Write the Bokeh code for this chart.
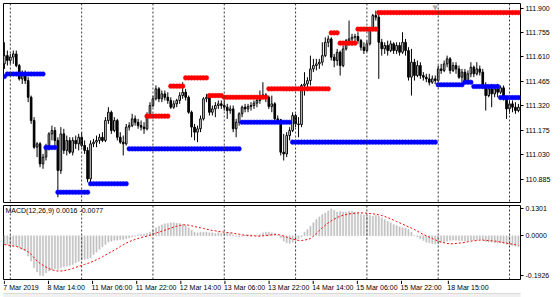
from bokeh.plotting import figure
from bokeh.models import (Range1d, LinearAxis, FixedTicker, Span, Label,
                          NumeralTickFormatter, ColumnDataSource)
from bokeh.core.properties import value
from bokeh.layouts import column
from bokeh.embed import file_html
from bokeh.resources import INLINE

FONT = "Liberation Sans"
FSIZE = "7px"

# ---------------- data (USDJPY H1) ----------------
open_ = [
111.569, 111.618, 111.589, 111.609, 111.628, 111.559, 111.480, 111.510, 111.470, 111.371,
111.233, 111.075, 111.095, 110.976, 111.016, 111.075, 111.154, 111.174, 111.115, 110.937,
111.154, 111.056, 111.115, 111.045, 111.115, 111.095, 111.134, 111.085, 111.056, 110.887,
111.095, 111.105, 111.115, 111.134, 111.115, 111.233, 111.282, 111.174, 111.233, 111.134,
111.105, 111.095, 111.194, 111.203, 111.243, 111.223, 111.203, 111.194, 111.184, 111.263,
111.322, 111.362, 111.421, 111.362, 111.391, 111.371, 111.352, 111.312, 111.332, 111.352,
111.381, 111.401, 111.371, 111.282, 111.194, 111.164, 111.184, 111.243, 111.362, 111.371,
111.282, 111.302, 111.322, 111.332, 111.322, 111.312, 111.292, 111.302, 111.184, 111.223,
111.273, 111.312, 111.302, 111.316, 111.322, 111.336, 111.352, 111.375, 111.385, 111.371,
111.316, 111.332, 111.243, 111.237, 111.045, 111.035, 111.144, 111.174, 111.263, 111.213,
111.209, 111.441, 111.450, 111.470, 111.539, 111.559, 111.569, 111.579, 111.618, 111.697,
111.717, 111.609, 111.589, 111.638, 111.559, 111.658, 111.707, 111.717, 111.727, 111.731,
111.707, 111.668, 111.648, 111.688, 111.777, 111.856, 111.846, 111.697, 111.658, 111.678,
111.648, 111.688, 111.648, 111.678, 111.638, 111.697, 111.648, 111.490, 111.579, 111.500,
111.559, 111.500, 111.490, 111.480, 111.460, 111.480, 111.470, 111.539, 111.530, 111.569,
111.599, 111.530, 111.559, 111.539, 111.490, 111.520, 111.470, 111.510, 111.549, 111.510,
111.539, 111.520, 111.431, 111.381, 111.421, 111.391, 111.421, 111.401, 111.427, 111.362,
111.302, 111.332, 111.312, 111.292]

high = [
111.697, 111.648, 111.628, 111.648, 111.648, 111.569, 111.530, 111.530, 111.490, 111.381,
111.253, 111.105, 111.105, 111.035, 111.095, 111.164, 111.203, 111.194, 111.134, 111.194,
111.184, 111.144, 111.134, 111.134, 111.144, 111.154, 111.164, 111.115, 111.075, 111.115,
111.124, 111.144, 111.154, 111.164, 111.253, 111.312, 111.292, 111.253, 111.243, 111.164,
111.144, 111.213, 111.223, 111.273, 111.263, 111.243, 111.233, 111.223, 111.282, 111.342,
111.381, 111.441, 111.431, 111.411, 111.411, 111.401, 111.371, 111.352, 111.362, 111.401,
111.460, 111.421, 111.381, 111.292, 111.213, 111.203, 111.263, 111.371, 111.391, 111.381,
111.322, 111.342, 111.352, 111.352, 111.352, 111.332, 111.322, 111.322, 111.243, 111.282,
111.322, 111.332, 111.332, 111.342, 111.352, 111.362, 111.411, 111.460, 111.395, 111.381,
111.381, 111.342, 111.263, 111.243, 111.154, 111.164, 111.194, 111.282, 111.273, 111.253,
111.450, 111.520, 111.490, 111.618, 111.599, 111.599, 111.599, 111.697, 111.727, 111.737,
111.727, 111.628, 111.658, 111.648, 111.678, 111.717, 111.826, 111.747, 111.747, 111.757,
111.717, 111.697, 111.707, 111.786, 111.865, 111.885, 111.885, 111.717, 111.697, 111.707,
111.707, 111.697, 111.697, 111.697, 111.757, 111.717, 111.668, 111.658, 111.599, 111.589,
111.579, 111.520, 111.510, 111.510, 111.500, 111.500, 111.559, 111.569, 111.589, 111.618,
111.609, 111.579, 111.579, 111.559, 111.539, 111.539, 111.530, 111.579, 111.559, 111.579,
111.559, 111.539, 111.460, 111.441, 111.450, 111.441, 111.450, 111.441, 111.441, 111.371,
111.352, 111.352, 111.342, 111.332]

low = [
111.539, 111.559, 111.569, 111.569, 111.549, 111.470, 111.450, 111.450, 111.342, 111.213,
111.065, 111.016, 110.956, 110.947, 110.996, 111.056, 111.115, 111.075, 110.778, 110.917,
111.035, 111.026, 111.035, 111.026, 111.065, 111.056, 111.075, 111.035, 110.867, 110.867,
111.075, 111.075, 111.095, 111.105, 111.105, 111.213, 111.154, 111.164, 111.115, 111.095,
111.026, 111.085, 111.174, 111.194, 111.203, 111.184, 111.174, 111.154, 111.174, 111.253,
111.312, 111.352, 111.342, 111.342, 111.352, 111.332, 111.302, 111.302, 111.312, 111.332,
111.362, 111.352, 111.273, 111.134, 111.115, 111.105, 111.164, 111.233, 111.342, 111.263,
111.263, 111.253, 111.302, 111.302, 111.292, 111.243, 111.273, 111.164, 111.134, 111.203,
111.253, 111.282, 111.282, 111.292, 111.302, 111.312, 111.332, 111.362, 111.342, 111.302,
111.282, 111.213, 111.223, 111.026, 110.996, 111.016, 111.115, 111.164, 111.194, 111.134,
111.194, 111.381, 111.421, 111.441, 111.520, 111.530, 111.539, 111.559, 111.609, 111.668,
111.589, 111.549, 111.559, 111.500, 111.549, 111.648, 111.678, 111.678, 111.688, 111.688,
111.648, 111.628, 111.638, 111.678, 111.767, 111.826, 111.480, 111.618, 111.628, 111.618,
111.638, 111.628, 111.628, 111.618, 111.628, 111.618, 111.470, 111.381, 111.470, 111.490,
111.480, 111.470, 111.460, 111.441, 111.450, 111.450, 111.460, 111.510, 111.520, 111.549,
111.510, 111.520, 111.510, 111.480, 111.460, 111.460, 111.450, 111.490, 111.490, 111.500,
111.500, 111.421, 111.292, 111.371, 111.312, 111.371, 111.371, 111.391, 111.352, 111.243,
111.273, 111.282, 111.273, 111.282]

close = [
111.618, 111.589, 111.609, 111.628, 111.559, 111.480, 111.510, 111.470, 111.371, 111.233,
111.075, 111.095, 110.976, 111.016, 111.075, 111.154, 111.174, 111.115, 110.937, 111.154,
111.056, 111.115, 111.045, 111.115, 111.095, 111.134, 111.085, 111.056, 110.887, 111.095,
111.105, 111.115, 111.134, 111.115, 111.233, 111.282, 111.174, 111.233, 111.134, 111.105,
111.095, 111.194, 111.203, 111.243, 111.223, 111.203, 111.194, 111.184, 111.263, 111.322,
111.362, 111.421, 111.362, 111.391, 111.371, 111.352, 111.312, 111.332, 111.352, 111.381,
111.401, 111.371, 111.282, 111.194, 111.164, 111.184, 111.243, 111.362, 111.371, 111.282,
111.302, 111.322, 111.332, 111.322, 111.312, 111.292, 111.302, 111.184, 111.223, 111.273,
111.312, 111.302, 111.316, 111.322, 111.336, 111.352, 111.375, 111.385, 111.371, 111.316,
111.332, 111.243, 111.237, 111.045, 111.035, 111.144, 111.174, 111.263, 111.213, 111.209,
111.441, 111.450, 111.470, 111.539, 111.559, 111.569, 111.579, 111.618, 111.697, 111.717,
111.609, 111.589, 111.638, 111.559, 111.658, 111.707, 111.717, 111.727, 111.731, 111.707,
111.668, 111.648, 111.688, 111.777, 111.856, 111.846, 111.697, 111.658, 111.678, 111.648,
111.688, 111.648, 111.678, 111.638, 111.697, 111.648, 111.490, 111.579, 111.500, 111.559,
111.500, 111.490, 111.480, 111.460, 111.480, 111.470, 111.539, 111.530, 111.569, 111.599,
111.530, 111.559, 111.539, 111.490, 111.520, 111.470, 111.510, 111.549, 111.510, 111.539,
111.520, 111.431, 111.381, 111.421, 111.391, 111.421, 111.401, 111.427, 111.362, 111.302,
111.332, 111.312, 111.292, 111.312]

# support (blue) and resistance (red) dotted levels: first bar, last bar, price
blue_start = [0, 1, 14, 18, 29, 42, 80, 97, 146, 155, 158, 167]
blue_end = [0, 13, 17, 28, 41, 79, 96, 145, 154, 157, 166, 173]
blue_level = [111.494, 111.509, 111.073, 110.808, 110.858, 111.065, 111.223, 111.105,
              111.445, 111.460, 111.435, 111.369]
red_start = [48, 56, 61, 69, 74, 89, 110, 113, 119, 126]
red_end = [55, 60, 68, 73, 88, 109, 112, 118, 125, 173]
red_level = [111.259, 111.437, 111.486, 111.381, 111.371, 111.421, 111.753, 111.692,
             111.775, 111.873]

macd_hist = [
-0.0416, -0.0416, -0.0464, -0.0496, -0.0496, -0.0576, -0.0656, -0.0736, -0.0976, -0.1216,
-0.1536, -0.1744, -0.1900, -0.1926, -0.1776, -0.1696, -0.1648, -0.1584, -0.1616, -0.1536,
-0.1488, -0.1456, -0.1424, -0.1376, -0.1296, -0.1232, -0.1168, -0.1136, -0.1104, -0.1056,
-0.0896, -0.0784, -0.0656, -0.0528, -0.0416, -0.0304, -0.0256, -0.0208, -0.0208, -0.0176,
-0.0176, -0.0144, -0.0096, -0.0048, -0.0016, 0.0048, 0.0064, 0.0080, 0.0112, 0.0176,
0.0272, 0.0384, 0.0464, 0.0528, 0.0576, 0.0592, 0.0624, 0.0624, 0.0608, 0.0592,
0.0544, 0.0496, 0.0384, 0.0272, 0.0176, 0.0144, 0.0176, 0.0176, 0.0176, 0.0144,
0.0144, 0.0112, 0.0144, 0.0112, 0.0112, 0.0144, 0.0112, 0.0048, -0.0016, -0.0048,
-0.0016, 0.0032, 0.0048, 0.0048, 0.0016, 0.0032, 0.0080, 0.0144, 0.0176, 0.0176,
0.0144, 0.0112, 0.0016, -0.0096, -0.0256, -0.0336, -0.0368, -0.0304, -0.0224, -0.0144,
-0.0048, 0.0176, 0.0304, 0.0464, 0.0624, 0.0784, 0.0912, 0.1024, 0.1104, 0.1200,
0.1301, 0.1230, 0.1150, 0.1180, 0.1150, 0.1150, 0.1180, 0.1180, 0.1150, 0.1100,
0.1024, 0.1008, 0.0992, 0.0976, 0.0944, 0.0976, 0.0944, 0.0864, 0.0784, 0.0704,
0.0624, 0.0544, 0.0496, 0.0432, 0.0384, 0.0368, 0.0304, 0.0176, 0.0016, -0.0048,
-0.0144, -0.0224, -0.0304, -0.0336, -0.0368, -0.0384, -0.0384, -0.0336, -0.0304, -0.0256,
-0.0224, -0.0208, -0.0208, -0.0224, -0.0240, -0.0256, -0.0240, -0.0208, -0.0208, -0.0192,
-0.0176, -0.0208, -0.0272, -0.0304, -0.0304, -0.0336, -0.0336, -0.0352, -0.0368, -0.0416,
-0.0432, -0.0464, -0.0496, -0.0528]

macd_signal = [
-0.0416, -0.0448, -0.0464, -0.0496, -0.0512, -0.0560, -0.0624, -0.0688, -0.0768, -0.0896,
-0.1056, -0.1216, -0.1328, -0.1424, -0.1504, -0.1584, -0.1632, -0.1680, -0.1696, -0.1696,
-0.1680, -0.1648, -0.1616, -0.1568, -0.1520, -0.1472, -0.1424, -0.1376, -0.1328, -0.1280,
-0.1216, -0.1152, -0.1088, -0.1008, -0.0928, -0.0848, -0.0768, -0.0688, -0.0608, -0.0512,
-0.0432, -0.0352, -0.0288, -0.0224, -0.0176, -0.0128, -0.0080, -0.0048, -0.0016, 0.0032,
0.0080, 0.0128, 0.0176, 0.0224, 0.0272, 0.0320, 0.0368, 0.0416, 0.0464, 0.0496,
0.0528, 0.0528, 0.0512, 0.0480, 0.0448, 0.0416, 0.0384, 0.0352, 0.0320, 0.0288,
0.0256, 0.0240, 0.0208, 0.0192, 0.0176, 0.0160, 0.0144, 0.0128, 0.0096, 0.0080,
0.0048, 0.0032, 0.0016, 0.0000, 0.0000, -0.0016, -0.0016, 0.0000, 0.0016, 0.0032,
0.0048, 0.0064, 0.0064, 0.0032, -0.0016, -0.0064, -0.0112, -0.0160, -0.0192, -0.0224,
-0.0224, -0.0208, -0.0176, -0.0128, -0.0016, 0.0112, 0.0256, 0.0384, 0.0512, 0.0624,
0.0720, 0.0800, 0.0880, 0.0944, 0.0992, 0.1024, 0.1056, 0.1072, 0.1088, 0.1104,
0.1104, 0.1104, 0.1088, 0.1072, 0.1056, 0.1040, 0.1008, 0.0976, 0.0928, 0.0880,
0.0816, 0.0752, 0.0688, 0.0624, 0.0560, 0.0496, 0.0432, 0.0368, 0.0304, 0.0224,
0.0144, 0.0064, 0.0000, -0.0064, -0.0128, -0.0192, -0.0256, -0.0304, -0.0336, -0.0368,
-0.0384, -0.0384, -0.0368, -0.0352, -0.0336, -0.0320, -0.0288, -0.0256, -0.0240, -0.0224,
-0.0208, -0.0208, -0.0224, -0.0224, -0.0240, -0.0256, -0.0272, -0.0304, -0.0320, -0.0352,
-0.0384, -0.0400, -0.0432, -0.0464]

price_ticks = [110.885, 111.030, 111.175, 111.320, 111.465, 111.610, 111.755, 111.900]
macd_ticks = [-0.1926, 0.0, 0.1301]
day_start_bars = [2, 26, 50, 74, 98, 122, 146, 170]
time_bars = [0, 16, 32, 48, 64, 80, 96, 112, 128, 144, 161]
time_labels = ["7 Mar 2019", "8 Mar 14:00", "11 Mar 06:00", "11 Mar 22:00",
               "12 Mar 14:00", "13 Mar 06:00", "13 Mar 22:00", "14 Mar 14:00",
               "15 Mar 06:00", "15 Mar 22:00", "18 Mar 15:00"]
macd_title = "MACD(12,26,9) 0.0016 -0.0077"
shift_bar = 145

n = len(close)
assert len(open_) == n and len(high) == n and len(low) == n
assert len(macd_hist) == n and len(macd_signal) == n
bars = list(range(n))

X0, X1 = -0.3, n - 0.3          # visible bar window
P0, P1 = 110.747, 111.927       # price window
M0, M1 = -0.2104, 0.1460        # MACD window
GRID = "#3a3a3a"


def style_fig(p):
    p.xgrid.visible = False
    p.ygrid.visible = False


# ---------------- main price panel ----------------
p1 = figure(width=560, height=204, x_range=Range1d(X0, X1), y_range=Range1d(P0, P1),
            output_backend="svg", toolbar_location=None,
            x_axis_location=None, y_axis_location=None,
            min_border_left=3, min_border_right=40, min_border_top=3, min_border_bottom=2,
            background_fill_color="white", border_fill_color="white",
            outline_line_color="black", outline_line_width=1)
style_fig(p1)

for d in day_start_bars:
    p1.add_layout(Span(location=d, dimension="height", line_color=GRID,
                       line_dash="2 2", line_width=1))

src = ColumnDataSource(dict(
    x=bars, h=high, l=low,
    top=[max(a, b) for a, b in zip(open_, close)],
    bot=[min(a, b) for a, b in zip(open_, close)],
    fill=["white" if c >= o else "black" for o, c in zip(open_, close)]))
p1.segment(x0="x", y0="l", x1="x", y1="h", source=src, line_color="black", line_width=1)
p1.vbar(x="x", width=0.55, top="top", bottom="bot", source=src,
        fill_color="fill", line_color="black", line_width=1)

bx, by = [], []
for s, e, lv in zip(blue_start, blue_end, blue_level):
    for i in range(s, e + 1):
        bx.append(i)
        by.append(lv)
rx, ry = [], []
for s, e, lv in zip(red_start, red_end, red_level):
    for i in range(s, e + 1):
        rx.append(i)
        ry.append(lv)
p1.scatter(bx, by, size=4.6, fill_color="#0000ff", line_color="#0000ff", line_width=0.5)
p1.scatter(rx, ry, size=4.6, fill_color="#ff0000", line_color="#ff0000", line_width=0.5)

p1.add_layout(Label(x=shift_bar, y=P1, text="\u25bc", text_baseline="top", text_align="center",
                    text_font="DejaVu Sans", text_font_size="7px", text_color="#a8a8a8"))

pax = LinearAxis(ticker=FixedTicker(ticks=price_ticks),
                 formatter=NumeralTickFormatter(format="0.000"),
                 major_tick_out=3, major_tick_in=0, minor_tick_out=0, minor_tick_in=0,
                 axis_line_color=None, major_tick_line_color="black",
                 major_label_standoff=2, major_label_text_font=FONT,
                 major_label_text_font_size=FSIZE, major_label_text_color="black")
p1.add_layout(pax, "right")

# ---------------- MACD panel ----------------
p2 = figure(width=560, height=76, x_range=p1.x_range, y_range=Range1d(M0, M1),
            output_backend="svg", toolbar_location=None,
            x_axis_location=None, y_axis_location=None,
            min_border_left=3, min_border_right=40, min_border_top=1, min_border_bottom=1,
            background_fill_color="white", border_fill_color="white",
            outline_line_color="black", outline_line_width=1)
style_fig(p2)

for d in day_start_bars:
    p2.add_layout(Span(location=d, dimension="height", line_color=GRID,
                       line_dash="2 2", line_width=1))

p2.vbar(x=bars, width=0.4, top=macd_hist, bottom=0, fill_color="#c0c0c0",
        line_color="#c0c0c0", line_width=0.5)
p2.line(bars, macd_signal, line_color="#ff0000", line_dash="2 2", line_width=1)

p2.add_layout(Label(x=X0, y=M1, x_offset=2, y_offset=-1, text=macd_title,
                    text_baseline="top", text_align="left", text_font=FONT,
                    text_font_size=FSIZE, text_color="black"))

max_ = LinearAxis(ticker=FixedTicker(ticks=macd_ticks),
                  formatter=NumeralTickFormatter(format="0.0000"),
                  major_tick_out=3, major_tick_in=0, minor_tick_out=0, minor_tick_in=0,
                  axis_line_color=None, major_tick_line_color="black",
                  major_label_standoff=2, major_label_text_font=FONT,
                  major_label_text_font_size=FSIZE, major_label_text_color="black")
p2.add_layout(max_, "right")

# ---------------- time scale strip ----------------
# same bar scale as the panels above (517 px for the bar window), but 557 px wide
T1 = X0 + (X1 - X0) * 557.0 / 517.0
p3 = figure(width=560, height=17, x_range=Range1d(X0, T1), y_range=Range1d(0, 17),
            output_backend="svg", toolbar_location=None,
            x_axis_location=None, y_axis_location=None,
            min_border_left=3, min_border_right=0, min_border_top=0, min_border_bottom=0,
            background_fill_color="white", border_fill_color="white",
            outline_line_color=None)
style_fig(p3)
p3.quad(left=[X0 - 20], right=[T1 + 20], bottom=[0], top=[4],
        fill_color="#f0f0f0", line_color=None)
p3.segment(x0=[X0 - 20], y0=[4], x1=[T1 + 20], y1=[4], line_color="#dadada", line_width=1)
p3.segment(x0=time_bars, y0=[17] * len(time_bars), x1=time_bars, y1=[13.5] * len(time_bars),
           line_color="black", line_width=1)
p3.text(x=time_bars, y=[10.3] * len(time_bars), text=time_labels, x_offset=-1,
        text_align="left", text_baseline="middle", text_font=value(FONT),
        text_font_size=FSIZE, text_color="black")

layout = column(p1, p2, p3, spacing=0)
open("out.html", "w").write(file_html(layout, INLINE))
